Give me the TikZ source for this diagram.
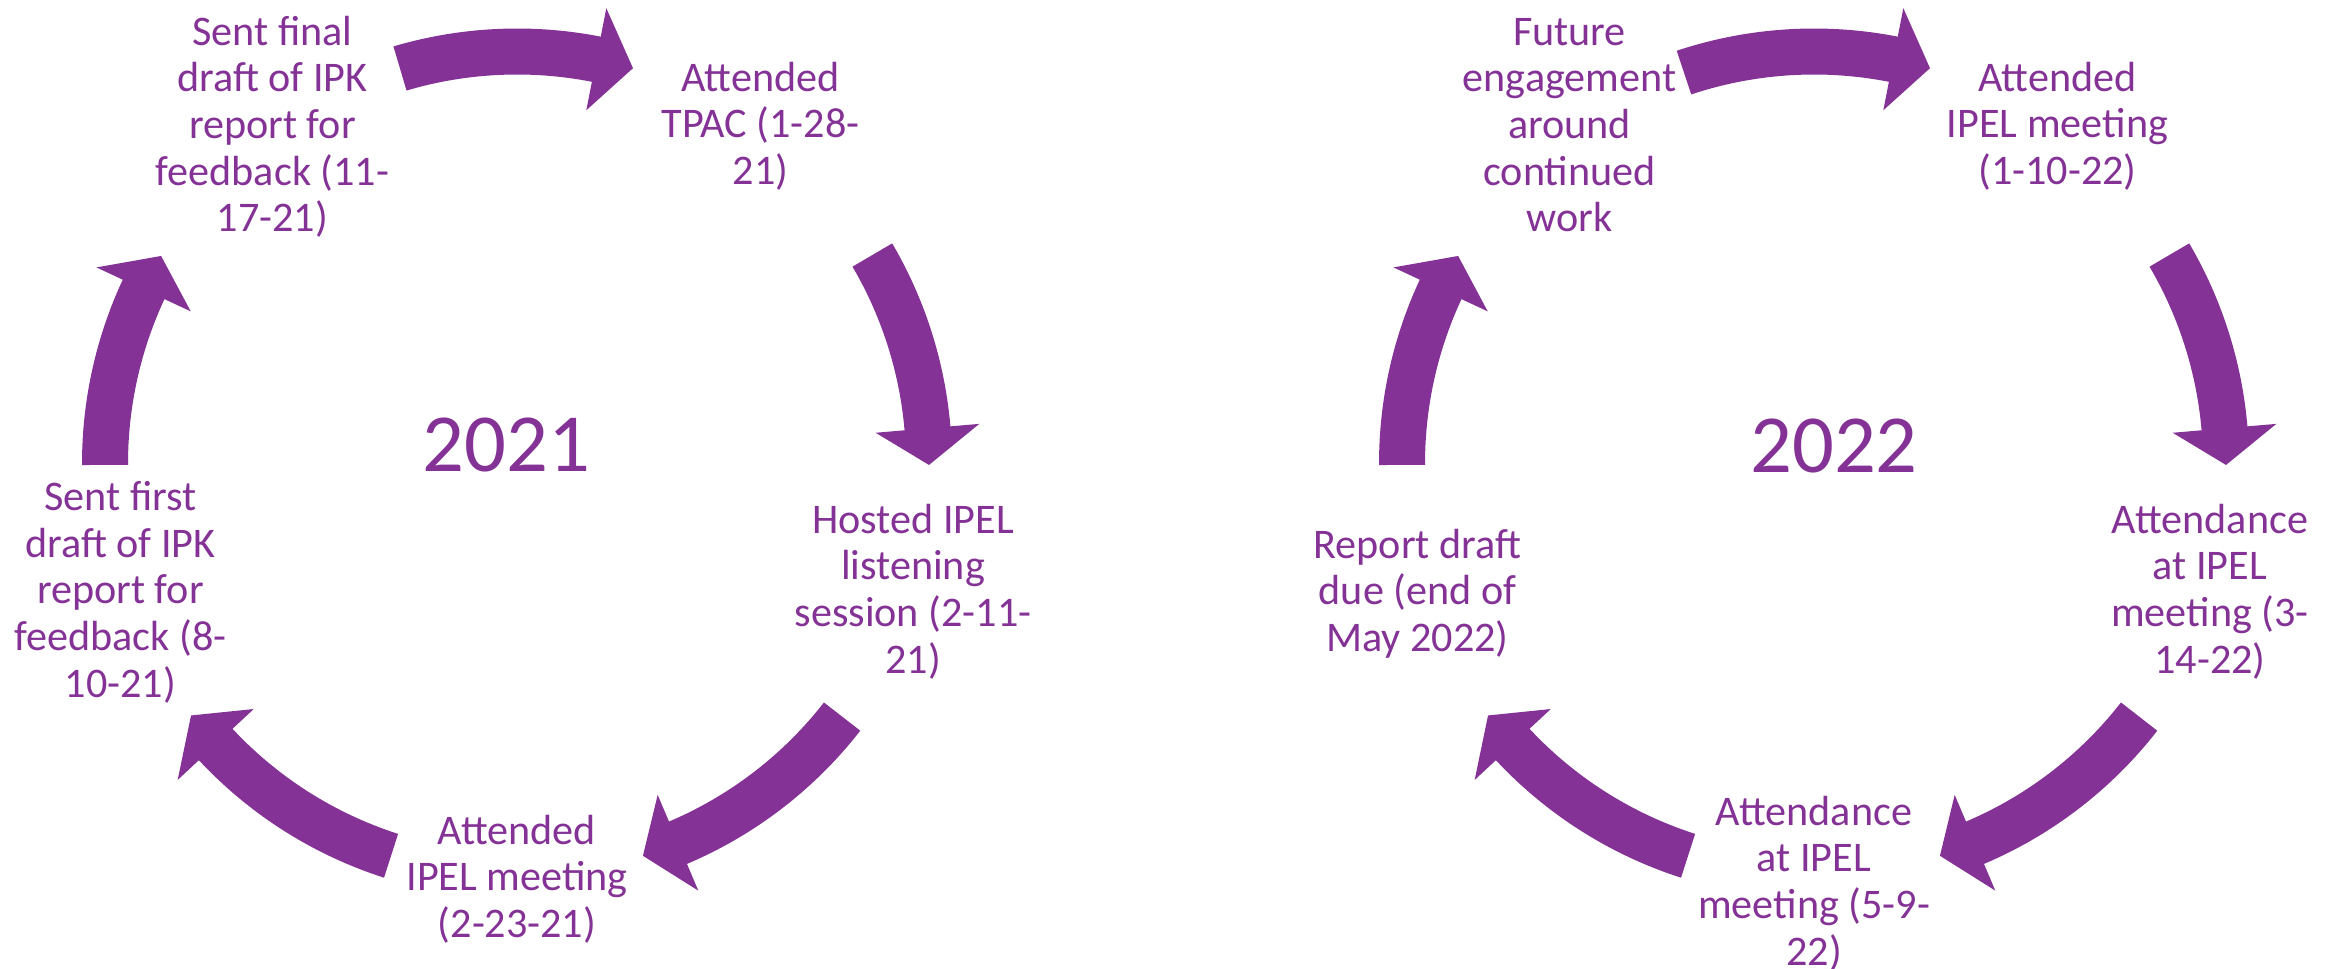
\documentclass[tikz,border=0pt]{standalone}
\usepackage{fontspec}
\setmainfont{Carlito}
\definecolor{purp}{RGB}{132,50,150}
\newcommand\stacklines[1]{\vtop{\halign{\hfil##\hfil\cr#1\crcr}}}
% circular block arrow: centre x, centre y, tail angle, head-base angle, tip angle
\newcommand\cycarrow[5]{%
  \fill[purp] plot[domain=#3:#4,samples=40] ({#1+435*cos(\x)},{#2+435*sin(\x)})
   -- ({#1+464*cos(#4)},{#2+464*sin(#4)})
   -- ({#1+412*cos(#5)},{#2+412*sin(#5)})
   -- ({#1+360*cos(#4)},{#2+360*sin(#4)})
   -- plot[domain=#4:#3,samples=40] ({#1+389*cos(\x)},{#2+389*sin(\x)}) -- cycle;}
\tikzset{
  lbl/.style={text=purp, font=\fontsize{24}{26.6}\selectfont, inner sep=0pt, anchor=base},
  yr/.style={text=purp, font=\fontsize{47}{52}\selectfont, inner sep=0pt, anchor=base}
}
\begin{document}
\begin{tikzpicture}[x=0.02cm,y=-0.02cm]
\fill[white] (0,0) rectangle (2338,968);
\useasboundingbox (0,0) rectangle (2338,968);
% ---- 2021 cycle ----
\cycarrow{517}{463.5}{-106.5}{-78.9}{-73.65}
\cycarrow{517}{463.5}{-30.4}{-4.9}{0.2}
\cycarrow{517}{463.5}{37.9}{67.0}{72.2}
\cycarrow{517}{463.5}{107.8}{137.0}{142.3}
\cycarrow{517}{463.5}{179.8}{205.0}{210.25}
\node[yr] (y1) at (506.7,471) {2021};
\node[lbl] (a1) at (272.5,45) {\stacklines{Sent final\cr draft of IPK\cr report for\cr feedback (11-\cr 17-21)}};
\node[lbl] (a2) at (760.5,91) {\stacklines{Attended\cr TPAC (1-28-\cr 21)}};
\node[lbl] (a3) at (913,533) {\stacklines{Hosted IPEL\cr listening\cr session (2-11-\cr 21)}};
\node[lbl] (a4) at (517,844) {\stacklines{Attended\cr IPEL meeting\cr (2-23-21)}};
\node[lbl] (a5) at (120.5,510.3) {\stacklines{Sent first\cr draft of IPK\cr report for\cr feedback (8-\cr 10-21)}};
% ---- 2022 cycle ----
\cycarrow{1814}{463.5}{-108.4}{-78.9}{-73.65}
\cycarrow{1814}{463.5}{-30.4}{-4.9}{0.2}
\cycarrow{1814}{463.5}{37.9}{67.0}{72.2}
\cycarrow{1814}{463.5}{107.8}{137.0}{142.3}
\cycarrow{1814}{463.5}{179.8}{205.0}{210.25}
\node[yr] (y2) at (1834,472) {2022};
\node[lbl] (b1) at (1569.5,45) {\stacklines{Future\cr engagement\cr around\cr continued\cr work}};
\node[lbl] (b2) at (2057.5,91) {\stacklines{Attended\cr IPEL meeting\cr (1-10-22)}};
\node[lbl] (b3) at (2210,533) {\stacklines{Attendance\cr at IPEL\cr meeting (3-\cr 14-22)}};
\node[lbl] (b4) at (1814,825) {\stacklines{Attendance\cr at IPEL\cr meeting (5-9-\cr 22)}};
\node[lbl] (b5) at (1417.5,558) {\stacklines{Report draft\cr due (end of\cr May 2022)}};
\end{tikzpicture}
\end{document}
